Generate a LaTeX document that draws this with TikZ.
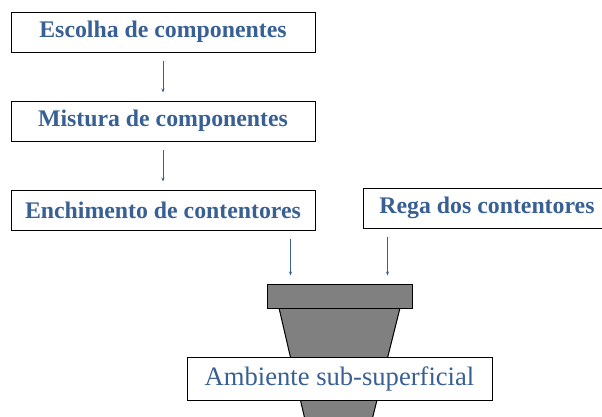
\documentclass[tikz,border=0pt]{standalone}
\usepackage{fontspec}
\setmainfont{Liberation Serif}
\usetikzlibrary{arrows.meta, positioning}

\definecolor{textblue}{RGB}{56,96,148}
\definecolor{potgray}{RGB}{128,128,128}

\begin{document}
\begin{tikzpicture}[
            x = 1pt, y = -1pt, % pixel-like coordinates
            > = {Stealth[length=4pt, width=3pt]}, % arrow head style
            stepbox/.style = {
                draw = black,
                line width = 1pt,
                fill = white,
                text = textblue,
                font = \fontsize{23.8}{26}\selectfont\bfseries,
                minimum width = 304pt,
                minimum height = 40pt,
                inner sep = 0pt
            },
            flow/.style = {
                ->,
                draw = textblue,
                line width = 0.8pt,
                shorten < = 8pt,
                shorten > = 8pt
            }
        ]

        \useasboundingbox (0,0) rectangle (602,416);

	\node[stepbox] (choose) at (163,32) {Escolha de componentes};
	\node[stepbox] (mix) [below=48pt of choose] {Mistura de componentes};
	\node[stepbox] (fill) [below=48pt of mix] {Enchimento de contentores};
	\node[stepbox, minimum width = 248pt] (water) at (487,208) {Rega dos contentores};

	% the pot
	\draw[black, line width = 1pt, fill = potgray] (279,308) -- (400,308) -- (371,424) -- (306,424) -- cycle;
	\node[draw = black, line width = 1pt, fill = potgray, minimum width = 145pt, minimum height = 24pt, inner sep = 0pt] (rim) at (339.5,296) {};
	\node[draw = black, line width = 1pt, fill = white, text = textblue, font = \fontsize{26.6}{28}\selectfont, minimum width = 305pt, minimum height = 43pt, inner sep = 0pt] (soil) at (339.5,378.5) {Ambiente sub-superficial};

	\coordinate (in1) at ([xshift=24pt]rim.north west);
	\coordinate (in2) at ([xshift=-25pt]rim.north east);

        \path[flow] (choose) edge (mix);
        \path[flow] (mix) edge (fill);
        \draw[flow] (in1 |- fill.south) -- (in1);
        \draw[flow] (in2 |- water.south) -- (in2);

    \end{tikzpicture}
\end{document}
